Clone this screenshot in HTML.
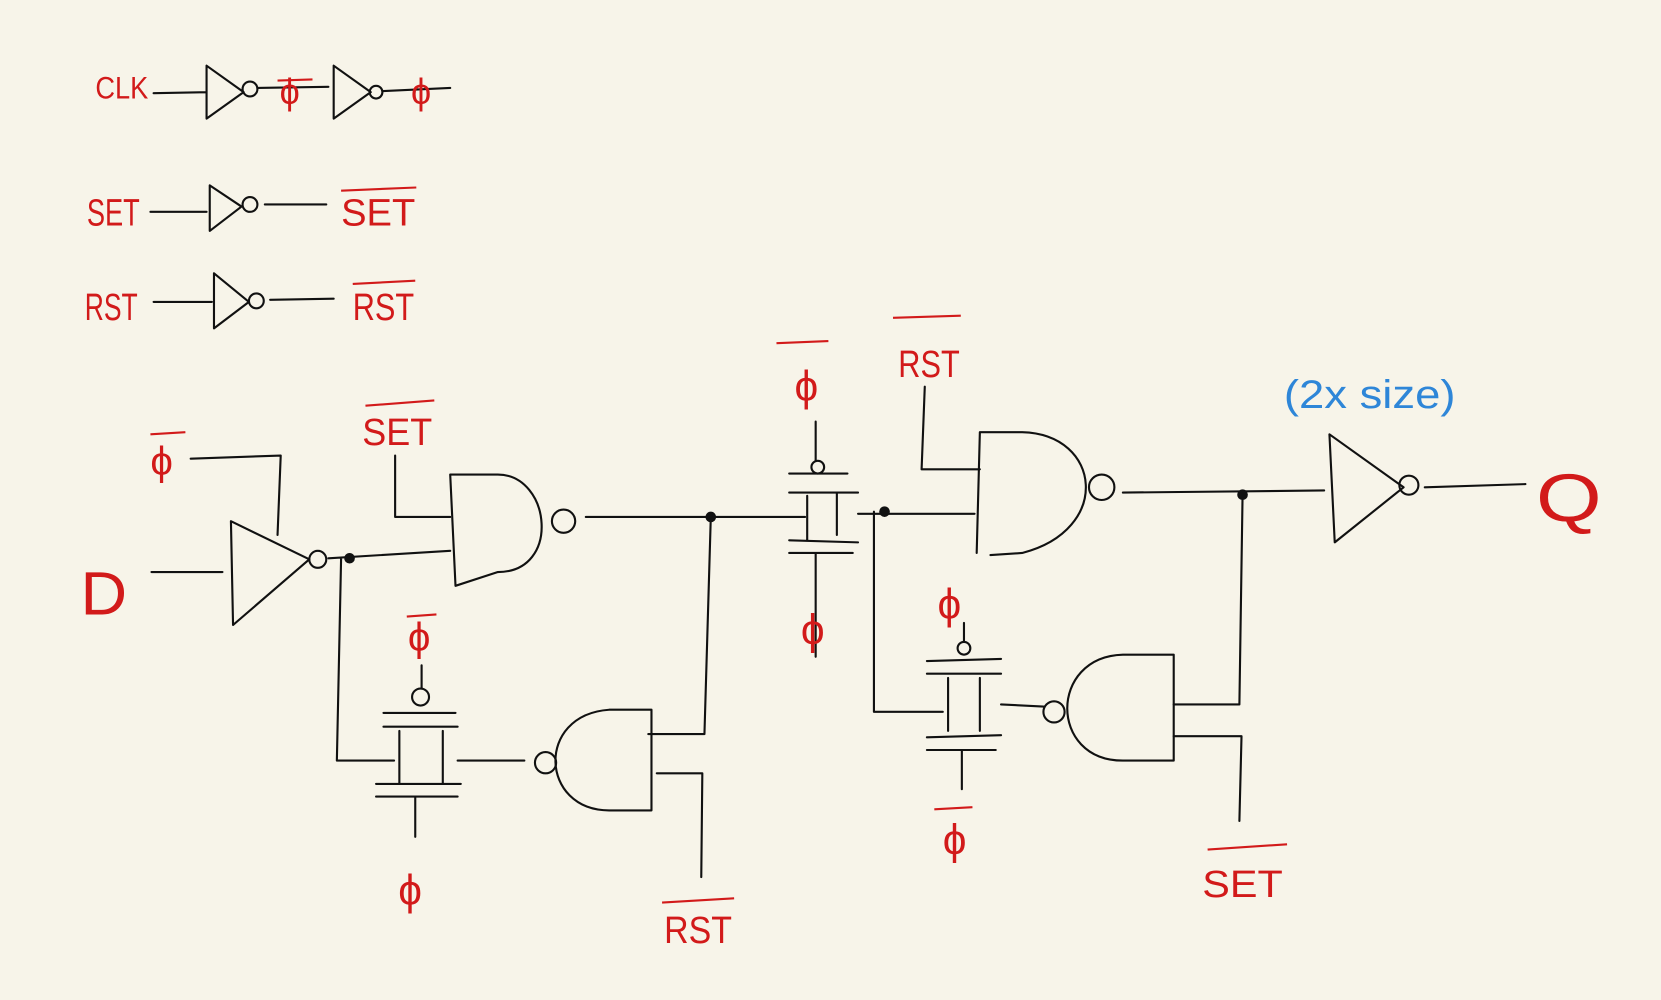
<!DOCTYPE html>
<html><head><meta charset="utf-8"><style>
html,body{margin:0;padding:0;background:#f7f4e9;}
svg{display:block;}
.k{stroke:#111;stroke-width:2;fill:none;stroke-linecap:round;stroke-linejoin:round}
.r{fill:#d21a1a;font-family:"Liberation Sans",sans-serif;}
.ro{stroke:#d21a1a;stroke-width:2;fill:none}
</style></head><body>
<svg width="1661" height="1000" viewBox="0 0 1568 944" preserveAspectRatio="none" xmlns="http://www.w3.org/2000/svg">
<rect width="1568" height="944" fill="#f7f4e9"/>
<!-- top: CLK -->
<text class="r" x="90" y="93" font-size="30" textLength="50" lengthAdjust="spacingAndGlyphs">CLK</text>
<path class="k" d="M145 88 L195 87 M195 62 L195 112 L230 87 Z M243 83 L310 82 M315 62 L315 112 L350 87 Z M362 86 L425 83"/>
<circle class="k" cx="236" cy="84" r="7"/><circle class="k" cx="355" cy="87" r="6"/>
<text class="r" x="264" y="98" font-size="34">ϕ</text><path class="ro" d="M262 76 L295 75"/>
<text class="r" x="388" y="98" font-size="34">ϕ</text>
<!-- SET -->
<text class="r" x="82" y="213" font-size="36" textLength="50" lengthAdjust="spacingAndGlyphs">SET</text>
<path class="k" d="M142 200 L195 200 M198 175 L198 218 L228 195 Z M250 193 L308 193"/>
<circle class="k" cx="236" cy="193" r="7"/>
<text class="r" x="322" y="213" font-size="36" textLength="70" lengthAdjust="spacingAndGlyphs">SET</text><path class="ro" d="M322 180 L393 177"/>
<!-- RST -->
<text class="r" x="80" y="302" font-size="36" textLength="50" lengthAdjust="spacingAndGlyphs">RST</text>
<path class="k" d="M145 285 L200 285 M202 258 L202 310 L235 285 Z M255 283 L315 282"/>
<circle class="k" cx="242" cy="284" r="7"/>
<text class="r" x="333" y="302" font-size="36" textLength="58" lengthAdjust="spacingAndGlyphs">RST</text><path class="ro" d="M333 268 L392 265"/>
<!-- D and tristate -->
<text class="r" x="76" y="580" font-size="58" textLength="44" lengthAdjust="spacingAndGlyphs">D</text>
<path class="k" d="M143 540 L210 540 M218 492 L220 590 L292 528 Z M180 433 L265 430 L262 505 M310 527 L425 520 M322 527 L318 718 L372 718"/>
<circle class="k" cx="300" cy="528" r="8"/><circle cx="330" cy="527" r="5" fill="#111"/>
<text class="r" x="142" y="448" font-size="38">ϕ</text><path class="ro" d="M142 410 L175 408"/>
<!-- NAND1 -->
<path class="k" d="M425 448 L430 553 M425 448 L470 448 C520 448 530 540 470 540 L430 553"/>
<circle class="k" cx="532" cy="492" r="11"/>
<text class="r" x="342" y="420" font-size="36" textLength="66" lengthAdjust="spacingAndGlyphs">SET</text><path class="ro" d="M345 383 L410 378"/>
<path class="k" d="M373 430 L373 488 L425 488 M553 488 L760 488 M671 488 L665 693 L612 693"/>
<circle cx="671" cy="488" r="5" fill="#111"/>
<!-- TG middle top -->
<path class="k" d="M770 398 L770 435 M745 447 L800 447 M745 465 L810 465 M762 468 L762 510 M790 465 L790 505 M745 510 L810 512 M745 522 L805 522 M770 522 L770 620 M810 485 L920 485"/>
<circle class="k" cx="772" cy="441" r="6"/>
<text class="r" x="750" y="378" font-size="40">ϕ</text><path class="ro" d="M733 324 L782 322"/>
<text class="r" x="756" y="608" font-size="40">ϕ</text>
<circle cx="835" cy="483" r="5" fill="#111"/>
<!-- NAND2 -->
<path class="k" d="M925 408 L922 522 M925 408 L965 408 C1040 410 1050 500 965 522 L935 524"/>
<circle class="k" cx="1040" cy="460" r="12"/>
<text class="r" x="848" y="356" font-size="36" textLength="58" lengthAdjust="spacingAndGlyphs">RST</text><path class="ro" d="M843 300 L907 298"/>
<path class="k" d="M873 365 L870 443 L925 443 M1060 465 L1250 463 M1173 467 L1170 665 L1108 665 M1108 695 L1172 695 L1170 775"/>
<circle cx="1173" cy="467" r="5" fill="#111"/>
<!-- output inverter -->
<path class="k" d="M1255 410 L1260 512 L1325 460 Z M1345 460 L1440 457"/>
<circle class="k" cx="1330" cy="458" r="9"/>
<text x="1212" y="385" font-size="38" fill="#2e86d8" font-family="Liberation Sans,sans-serif" textLength="162" lengthAdjust="spacingAndGlyphs">(2x size)</text>
<text class="r" x="1450" y="492" font-size="64" textLength="62" lengthAdjust="spacingAndGlyphs">Q</text>
<!-- TG3 -->
<path class="k" d="M825 483 L825 672 L890 672 M910 588 L910 606 M875 624 L945 622 M875 636 L945 636 M895 640 L895 690 M925 640 L925 690 M875 696 L945 694 M875 708 L940 708 M908 708 L908 745 M945 665 L985 667"/>
<circle class="k" cx="910" cy="612" r="6"/>
<text class="r" x="885" y="584" font-size="40">ϕ</text>
<text class="r" x="890" y="806" font-size="40">ϕ</text><path class="ro" d="M882 764 L918 762"/>
<!-- NAND4 mirrored -->
<circle class="k" cx="995" cy="672" r="10"/>
<path class="k" d="M1108 618 L1108 718 M1108 618 L1060 618 C990 620 990 718 1060 718 L1108 718"/>
<text class="r" x="1135" y="847" font-size="36" textLength="76" lengthAdjust="spacingAndGlyphs">SET</text><path class="ro" d="M1140 802 L1215 797"/>
<!-- TG1 bottom-left -->
<path class="k" d="M398 628 L398 650 M362 673 L430 673 M362 686 L432 686 M377 690 L377 740 M418 690 L418 740 M355 740 L435 740 M355 752 L432 752 M392 752 L392 790 M432 718 L495 718"/>
<circle class="k" cx="397" cy="658" r="8"/>
<text class="r" x="385" y="614" font-size="38">ϕ</text><path class="ro" d="M384 582 L412 580"/>
<text class="r" x="376" y="854" font-size="40">ϕ</text>
<!-- NAND3 mirrored -->
<circle class="k" cx="515" cy="720" r="10"/>
<path class="k" d="M615 670 L615 765 M615 670 L575 670 C505 675 510 765 575 765 L615 765 M620 730 L663 730 L662 828"/>
<text class="r" x="627" y="890" font-size="36" textLength="64" lengthAdjust="spacingAndGlyphs">RST</text><path class="ro" d="M625 852 L693 848"/>
</svg>
</body></html>
